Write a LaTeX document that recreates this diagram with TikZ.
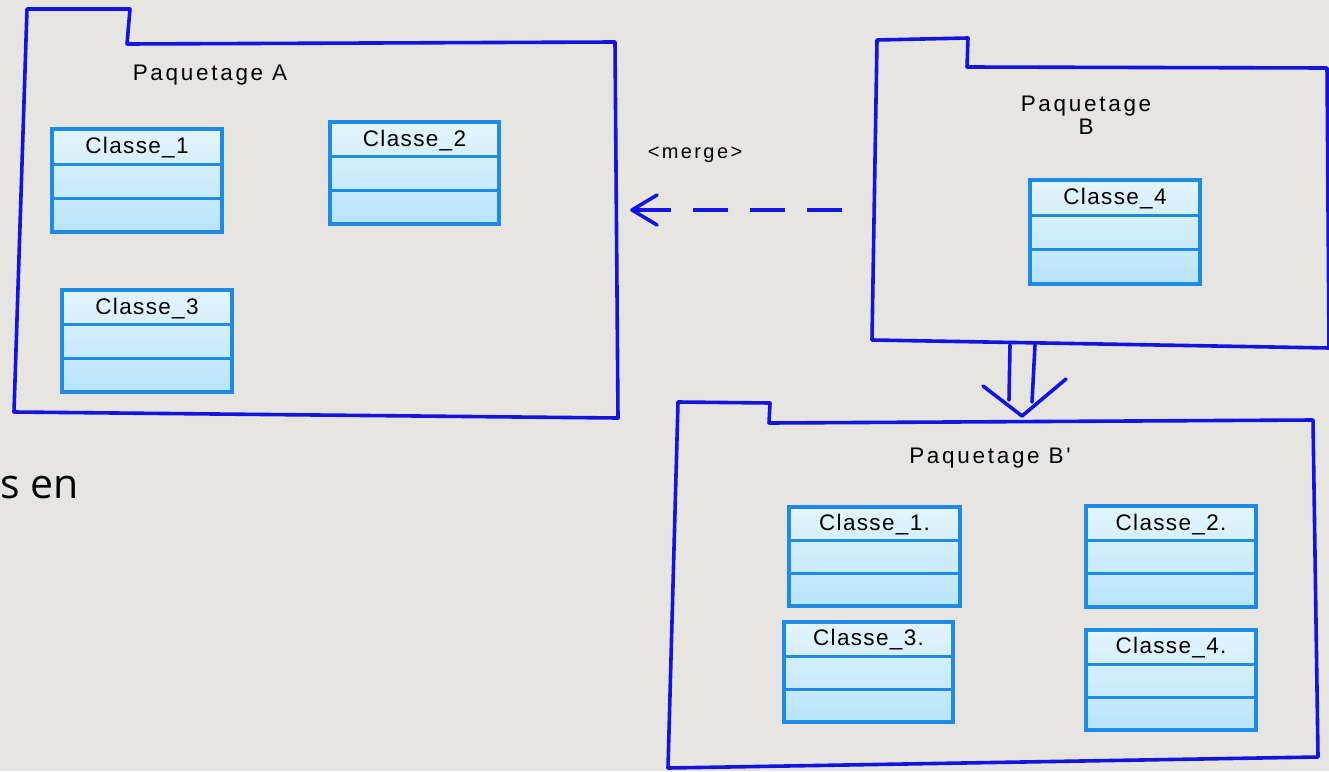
\documentclass[tikz,border=0pt]{standalone}
\usepackage{fontspec}
\setmainfont{Liberation Sans}
\newfontfamily\umlfont[LetterSpace=6]{Liberation Sans}
\newfontfamily\pkgfont[LetterSpace=12]{Liberation Sans}
\newfontfamily\slidefont{Open Sans}
\usetikzlibrary{calc}

\definecolor{pagebg}{RGB}{231,229,226}
\definecolor{pkgblue}{RGB}{20,20,225}
\definecolor{clsline}{RGB}{30,140,230}
\definecolor{clstop}{RGB}{228,245,252}
\definecolor{clsbot}{RGB}{184,228,250}

\tikzset{
  pkg/.style={draw=pkgblue, line width=3.6pt, line join=round, line cap=round},
  classbox/.style={draw=clsline, line width=3.4pt, top color=clstop, bottom color=clsbot,
    inner sep=0pt, outer sep=0pt},
  divider/.style={draw=clsline, line width=3pt},
  clabel/.style={font=\umlfont\fontsize{22.5}{26}\selectfont, text=black, inner sep=0pt},
  plabel/.style={font=\pkgfont\fontsize{22.5}{24}\selectfont, text=black, inner sep=0pt, align=center},
  mergearrow/.style={draw=pkgblue, line width=3.6pt, dash pattern=on 35pt off 22pt},
  tipline/.style={draw=pkgblue, line width=3.6pt, line cap=round, line join=round}
}

% UML class box: name, left, top, right, bottom, title
\newcommand{\umlclass}[6]{%
  \node[classbox, minimum width={(#4)-(#2)}, minimum height={(#5)-(#3)}]
    (#1) at ({((#2)+(#4))/2},{((#3)+(#5))/2}) {};
  \draw[divider] ($(#1.north west)!0.34!(#1.south west)$) -- ($(#1.north east)!0.34!(#1.south east)$);
  \draw[divider] ($(#1.north west)!0.67!(#1.south west)$) -- ($(#1.north east)!0.67!(#1.south east)$);
  \node[clabel] (#1-title) at ($(#1.north)!0.18!(#1.south)$) {#6};
}

\begin{document}
\begin{tikzpicture}[x=1pt, y=-1pt]
  \useasboundingbox (0,0) rectangle (1329,771);
  \fill[pagebg] (0,0) rectangle (1329,771);

  % slide body text behind the diagram
  \node[font=\slidefont\fontsize{41}{46}\selectfont, anchor=base west, inner sep=0pt] (body) at (0,498) {s en};

  % Package A
  \draw[pkg] (27,9) -- (130,9) -- (127,44) -- (615,42) -- (618,418) -- (14,412) -- cycle;
  \node[plabel] (pA) at (210,75) {Paquetage A};

  % Package B
  \draw[pkg] (877,40) -- (968,38) -- (967,67) -- (1327,68) -- (1329,348) -- (872,340) -- cycle;
  \node[plabel] (pB) at (1086,115) {Paquetage\\[-1pt]B};

  % Package B'
  \draw[pkg] (678,402) -- (770,403) -- (769,423) -- (1313,420) -- (1318,757) -- (668,768) -- cycle;
  \node[plabel] (pBp) at (990,458) {Paquetage B'};

  % classes of package A
  \umlclass{a1}{52}{129}{222}{232}{Classe\_1}
  \umlclass{a2}{330}{122}{499}{224}{Classe\_2}
  \umlclass{a3}{62}{290}{232}{392}{Classe\_3}

  % class of package B
  \umlclass{b4}{1030}{180}{1200}{284}{Classe\_4}

  % classes of package B'
  \umlclass{m1}{789}{507}{960}{606}{Classe\_1.}
  \umlclass{m2}{1086}{506}{1256}{607}{Classe\_2.}
  \umlclass{m3}{784}{622}{953}{722}{Classe\_3.}
  \umlclass{m4}{1086}{630}{1256}{730}{Classe\_4.}

  % merge dependency from B to A
  \coordinate (mergeFrom) at (842,210);
  \coordinate (mergeTo) at (632,210);
  \draw[mergearrow] (mergeFrom) -- (mergeTo);
  \draw[tipline] ($(mergeTo)+(25,-15)$) -- (mergeTo) -- ($(mergeTo)+(25,15)$);
  \node[font=\pkgfont\fontsize{20}{22}\selectfont, inner sep=0pt] (mergeLbl) at (695,155) {<merge>};

  % result arrow from B down to B'
  \coordinate (resL0) at (1010,345);
  \coordinate (resL1) at (1009,400);
  \coordinate (resR0) at (1035,345);
  \coordinate (resR1) at (1032,402);
  \coordinate (resTip) at (1022,416);
  \draw[tipline] (resL0) -- (resL1);
  \draw[tipline] (resR0) -- (resR1);
  \draw[tipline] (983,386) -- (resTip) -- (1066,379);
\end{tikzpicture}
\end{document}
